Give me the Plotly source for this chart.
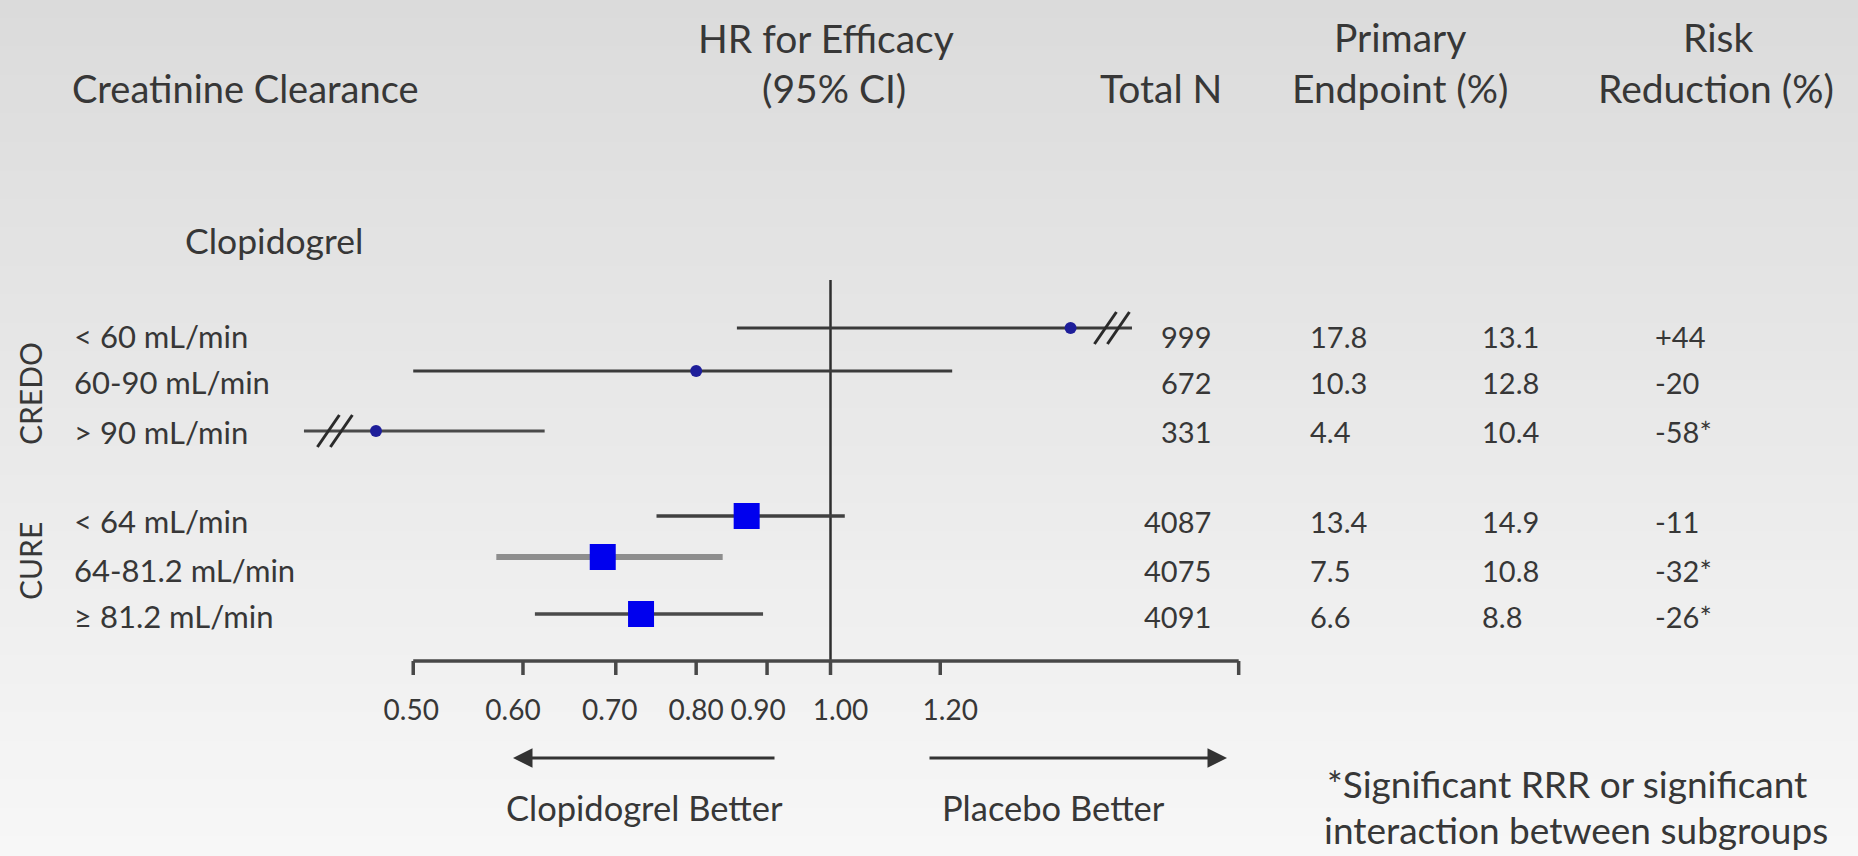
import math
import plotly.graph_objects as go

# ---- data -------------------------------------------------------------
groups = ["CREDO", "CURE"]
group_rows = [[0, 1, 2], [3, 4, 5]]
subgroups = ["< 60 mL/min", "60-90 mL/min", "> 90 mL/min",
             "< 64 mL/min", "64-81.2 mL/min", "\u2265 81.2 mL/min"]
hr = [1.49, 0.80, 0.47, 0.87, 0.685, 0.73]
ci_low = [0.856, 0.50, 0.417, 0.749, 0.574, 0.612]
ci_high = [1.65, 1.224, 0.622, 1.024, 0.836, 0.894]
total_n = [999, 672, 331, 4087, 4075, 4091]
endpoint_clopidogrel = ["17.8", "10.3", "4.4", "13.4", "7.5", "6.6"]
endpoint_placebo = ["13.1", "12.8", "10.4", "14.9", "10.8", "8.8"]
risk_reduction = ["+44", "-20", "-58*", "-11", "-32*", "-26*"]
break_rows = [0, 2]
break_at = [1.596, 0.439]
tick_vals = [0.50, 0.60, 0.70, 0.80, 0.90, 1.00, 1.20]
tick_text = ["0.50", "0.60", "0.70", "0.80", "0.90", "1.00", "1.20"]
axis_min, axis_max = 0.50, 1.97

# ---- layout constants -------------------------------------------------
W, H = 1858, 856
PX_PER_LN = 602.0          # horizontal pixels per natural-log unit of HR
X_ONE = 830.5              # pixel column of HR = 1
MARK_Y = [328, 371, 431, 516, 557, 614]
TEXT_Y = [336, 382, 432, 521, 570, 616]
AXIS_Y = 661
TICK_LEN = 14
TICK_LABEL_DX = [-2, -10, -6, 0, -9, 10, 10]   # hand-placed label nudges (px)
REF_TOP = 280
FONT = "Lato"
TXT = "#373737"

x_lo = (0 - X_ONE) / PX_PER_LN / math.log(10)
x_hi = (W - X_ONE) / PX_PER_LN / math.log(10)


def shift(v, px):
    """Move an HR value by a number of pixels on the log axis."""
    return v * math.exp(px / PX_PER_LN)


def px(x):
    return x / W


def py(y):
    return 1 - y / H


fig = go.Figure()

# background: soft vertical gray gradient
bands = 90
for i in range(bands):
    t = i / (bands - 1)
    c = round(219 + (247 - 219) * t)
    fig.add_shape(type="rect", xref="paper", yref="paper",
                  x0=0, x1=1, y0=1 - (i + 1) / bands, y1=1 - i / bands + 0.001,
                  fillcolor=f"rgb({c},{c},{c})", line_width=0, layer="below")

# reference line at HR = 1
fig.add_trace(go.Scatter(x=[1.0, 1.0], y=[REF_TOP, AXIS_Y + TICK_LEN], mode="lines",
                         line=dict(color="#2e2e2e", width=2.5), hoverinfo="skip"))

# horizontal axis with tick marks
ax_x, ax_y = [axis_min, axis_max, None], [AXIS_Y, AXIS_Y, None]
for v in tick_vals + [axis_max]:
    ax_x += [v, v, None]
    ax_y += [AXIS_Y, AXIS_Y + TICK_LEN, None]
fig.add_trace(go.Scatter(x=ax_x, y=ax_y, mode="lines",
                         line=dict(color="#484848", width=3.5), hoverinfo="skip"))
fig.add_trace(go.Scatter(x=[shift(v, d) for v, d in zip(tick_vals, TICK_LABEL_DX)],
                         y=[AXIS_Y + 52] * len(tick_vals), mode="text",
                         text=tick_text, textfont=dict(family=FONT, size=28, color=TXT),
                         hoverinfo="skip"))

# confidence intervals
ci_styles = [("#3a3a3a", 3), ("#3a3a3a", 3), ("#4a4a4a", 3),
             ("#404040", 3.5), ("#8e8e8e", 6), ("#4a4a4a", 3.5)]
for i in range(len(hr)):
    col, wd = ci_styles[i]
    fig.add_trace(go.Scatter(x=[ci_low[i], ci_high[i]], y=[MARK_Y[i]] * 2, mode="lines",
                             line=dict(color=col, width=wd), hoverinfo="skip"))

# axis-break marks "//"
bx, by = [], []
for r, b in zip(break_rows, break_at):
    for off in (-6.5, 6.5):
        c = shift(b, off)
        bx += [shift(c, -11), shift(c, 11), None]
        by += [MARK_Y[r] + 16, MARK_Y[r] - 16, None]
fig.add_trace(go.Scatter(x=bx, y=by, mode="lines",
                         line=dict(color="#2a2a2a", width=3), hoverinfo="skip"))

# point estimates
credo, cure = group_rows
fig.add_trace(go.Scatter(x=[hr[i] for i in credo], y=[MARK_Y[i] for i in credo],
                         mode="markers", marker=dict(symbol="circle", size=12, color="#1e1e9a"),
                         hoverinfo="skip"))
fig.add_trace(go.Scatter(x=[hr[i] for i in cure], y=[MARK_Y[i] for i in cure],
                         mode="markers", marker=dict(symbol="square", size=26, color="#0000ee"),
                         hoverinfo="skip"))

ann = []


def text(s, x, y, size, anchor="center", **kw):
    ann.append(dict(text=s, x=px(x), y=py(y), xref="paper", yref="paper",
                    xanchor=anchor, yanchor="middle", showarrow=False,
                    font=dict(family=FONT, size=size, color=TXT), **kw))


# column headers
HEAD = 39
text("Creatinine Clearance", 70, 88, 38, "left")
text("HR for Efficacy", 826, 38, HEAD)
text("(95% CI)", 834, 88, HEAD)
text("Total N", 1224, 88, HEAD, "right")
text("Primary", 1400, 37, HEAD)
text("Endpoint (%)", 1400, 88, HEAD)
text("Risk", 1718, 37, HEAD)
text("Reduction (%)", 1716, 88, HEAD)
text("Clopidogrel", 274, 240, 35.5)

# study labels
for g, rows, yc in zip(groups, group_rows, [394, 561]):
    text(g, 30, yc, 30, textangle=-90)

# rows
for i in range(len(subgroups)):
    y = TEXT_Y[i]
    text(subgroups[i], 72, y, 31, "left")
    text(str(total_n[i]), 1213, y, 29, "right")
    text(endpoint_clopidogrel[i], 1308, y, 29, "left")
    text(endpoint_placebo[i], 1480, y, 29, "left")
    text(risk_reduction[i], 1653, y, 29, "left")

# direction arrows
for tail, head in [(776, 513), (928, 1227)]:
    ann.append(dict(x=px(head), y=py(758), ax=tail - head, ay=0,
                    xref="paper", yref="paper", axref="pixel", ayref="pixel",
                    text="", showarrow=True, arrowhead=2, arrowsize=1.3,
                    arrowwidth=3, arrowcolor="#333333"))
text("Clopidogrel Better", 644, 807, 34.5)
text("Placebo Better", 1053, 807, 34.5)

# footnote
text("*Significant RRR or significant", 1325, 783, 37, "left")
text("interaction between subgroups", 1322, 829, 37, "left")

fig.update_layout(
    width=W, height=H, margin=dict(l=0, r=0, t=0, b=0),
    paper_bgcolor="#e8e8e8", plot_bgcolor="rgba(0,0,0,0)",
    showlegend=False, annotations=ann,
    xaxis=dict(type="log", range=[x_lo, x_hi], visible=False, fixedrange=True),
    yaxis=dict(range=[H, 0], visible=False, fixedrange=True),
)

fig.write_html("out.html", config={"displayModeBar": False})
